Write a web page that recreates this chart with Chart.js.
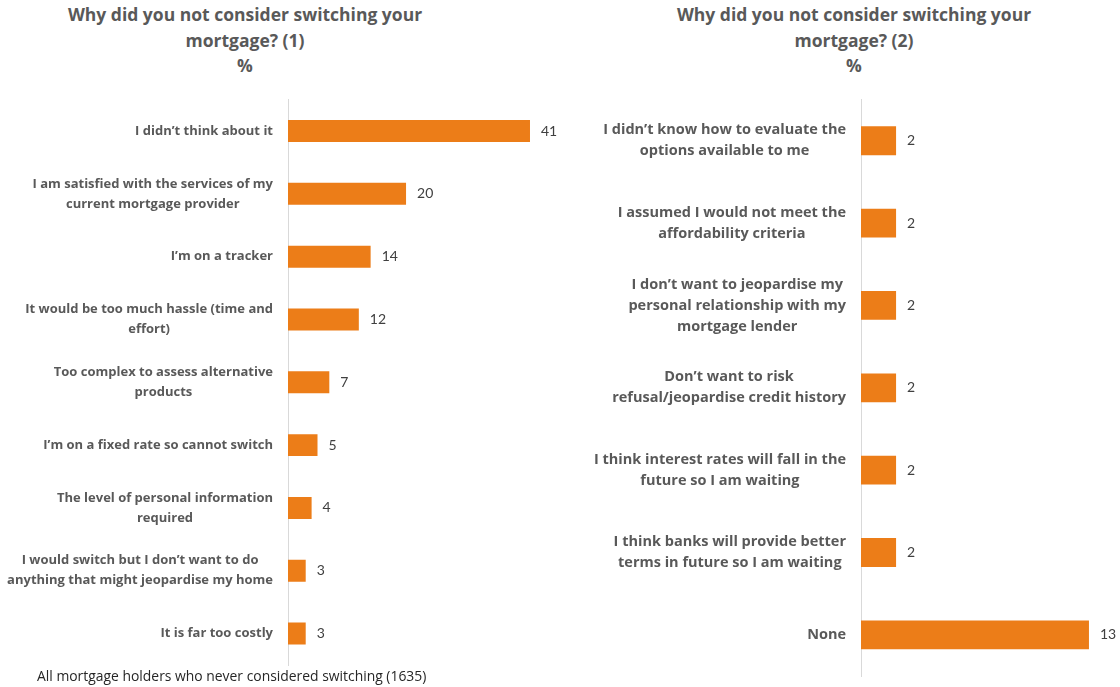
<!DOCTYPE html>
<html>
<head>
<meta charset="utf-8">
<script src="https://cdn.jsdelivr.net/npm/chart.js@4.4.1/dist/chart.umd.min.js"></script>
<style>
  html, body { margin: 0; padding: 0; background: #fff; }
  body { width: 1120px; height: 687px; position: relative; overflow: hidden; font-family: "Open Sans", Lato, sans-serif; }
  .box { position: absolute; top: 0; }
  .titulo { position: absolute; width: 440px; text-align: center; font-weight: bold; font-size: 17.5px; line-height: 25.5px; color: #595959; }
  .nota { position: absolute; left: 37px; top: 666px; font-size: 13.9px; color: #262626; }
</style>
</head>
<body>
<div class="titulo" style="left:25px; top:2px;">Why did you not consider switching your<br>mortgage? (1)<br>%</div>
<div class="titulo" style="left:634px; top:2px;">Why did you not consider switching your<br>mortgage? (2)<br>%</div>
<div class="box" style="left:0px;"><canvas id="graficoIzq" width="560" height="687"></canvas></div>
<div class="box" style="left:560px;"><canvas id="graficoDer" width="560" height="687"></canvas></div>
<div class="nota">All mortgage holders who never considered switching (1635)</div>
<script>
// Datos de las dos gráficas
const etiquetasIzq = [
  "I didn\u2019t think about it",
  ["I am satisfied with the services of my", "current mortgage provider"],
  "I\u2019m on a tracker",
  ["It would be too much hassle (time and", "effort)"],
  ["Too complex to assess alternative", "products"],
  "I\u2019m on a fixed rate so cannot switch",
  ["The level of personal information", "required"],
  ["I would switch but I don\u2019t want to do", "anything that might jeopardise my home"],
  "It is far too costly"
];
const valoresIzq = [41, 20, 14, 12, 7, 5, 4, 3, 3];

const etiquetasDer = [
  ["I didn\u2019t know how to evaluate the", "options available to me"],
  ["I assumed I would not meet the", "affordability criteria"],
  ["I don\u2019t want to jeopardise my", "personal relationship with my", "mortgage lender"],
  ["Don\u2019t want to risk", "refusal/jeopardise credit history"],
  ["I think interest rates will fall in the", "future so I am waiting"],
  ["I think banks will provide better", "terms in future so I am waiting"],
  "None"
];
const valoresDer = [2, 2, 2, 2, 2, 2, 13];

const NARANJA = "#EC7D18";
const FUENTE = "'Open Sans', Lato, sans-serif";

// Plugin: etiquetas del eje Y (bloque alineado a la derecha, lineas centradas) y valores
const pluginTextos = {
  id: "textos",
  afterDraw(chart, args, opts) {
    const ctx = chart.ctx;
    const ejeY = chart.scales.y;
    ctx.save();
    ctx.font = "bold " + opts.tamLetra + "px " + FUENTE;
    ctx.fillStyle = "#595959";
    ctx.textBaseline = "middle";
    ctx.textAlign = "center";
    chart.data.labels.forEach((lab, i) => {
      const partes = Array.isArray(lab) ? lab : [lab];
      const ancho = Math.max(...partes.map(p => ctx.measureText(p).width));
      const centroX = ejeY.right - 15 - ancho / 2;
      const y = ejeY.getPixelForTick(i);
      partes.forEach((p, k) => {
        ctx.fillText(p, centroX, y + (k - (partes.length - 1) / 2) * opts.interlinea);
      });
    });
    // valores al final de cada barra
    ctx.font = "14px Lato, sans-serif";
    ctx.fillStyle = "#404040";
    ctx.textAlign = "left";
    chart.getDatasetMeta(0).data.forEach((barra, i) => {
      ctx.fillText(String(chart.data.datasets[0].data[i]), barra.x + 11, barra.y);
    });
    ctx.restore();
  }
};

function generarGrafico(id, etiquetas, datos, maximo, anchoEje, padDer, padAbajo, tamLetra, interlinea) {
  new Chart(document.getElementById(id), {
    type: "bar",
    data: {
      labels: etiquetas,
      datasets: [{
        data: datos,
        backgroundColor: NARANJA,
        barPercentage: 0.35,
        categoryPercentage: 1
      }]
    },
    options: {
      indexAxis: "y",
      responsive: false,
      animation: false,
      layout: { padding: { top: 99.6, bottom: padAbajo, right: padDer, left: 0 } },
      scales: {
        x: { display: false, min: 0, max: maximo },
        y: {
          grid: { display: false, drawTicks: false },
          border: { display: true, color: "#d9d9d9", width: 1 },
          ticks: { display: false, autoSkip: false },
          afterFit(scale) { scale.width = anchoEje; }
        }
      },
      plugins: {
        legend: { display: false },
        tooltip: { enabled: false },
        textos: { tamLetra: tamLetra, interlinea: interlinea }
      }
    },
    plugins: [pluginTextos]
  });
}

generarGrafico("graficoIzq", etiquetasIzq, valoresIzq, 45, 288, 6.4, 22, 13, 20);
generarGrafico("graficoDer", etiquetasDer, valoresDer, 14, 301, 13.5, 11, 14.5, 21);
</script>
</body>
</html>
